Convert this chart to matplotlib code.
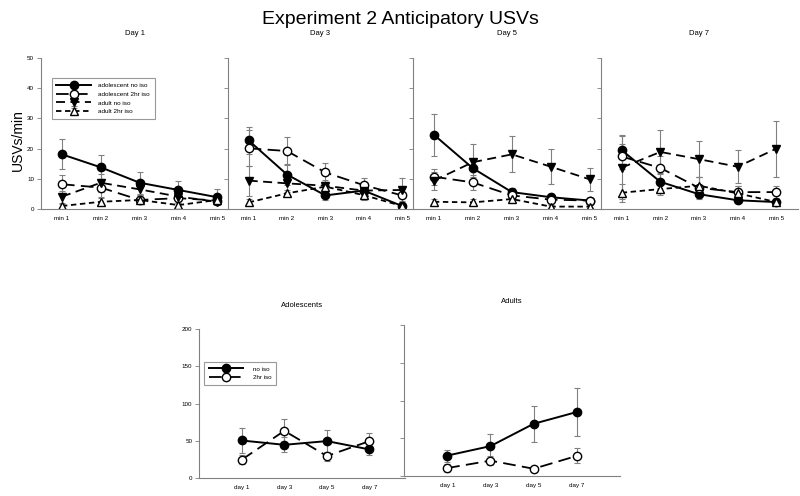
import matplotlib.pyplot as plt

plt.rcParams['font.family'] = ['Liberation Sans', 'DejaVu Sans']

# top row: USVs/min per minute for each test day
minutes = ["min 1", "min 2", "min 3", "min 4", "min 5"]
days = ["Day 1", "Day 3", "Day 5", "Day 7"]

ado_no = [[18.1, 13.8, 8.7, 6.3, 3.9], [22.7, 11.4, 4.5, 6.1, 1.0],
          [24.6, 13.5, 5.6, 3.9, 2.8], [19.5, 9.0, 4.9, 2.9, 2.3]]
ado_no_err = [[5.0, 4.0, 3.7, 2.9, 2.6], [4.4, 3.5, 1.5, 1.5, 0.8],
              [7.0, 3.0, 1.5, 1.0, 0.8], [5.0, 3.0, 1.5, 1.0, 0.8]]
ado_2hr = [[8.2, 7.1, 3.0, 3.6, 2.8], [20.1, 19.2, 12.1, 7.9, 4.5],
           [10.7, 8.8, 4.5, 3.1, 2.8], [17.4, 13.6, 7.0, 5.6, 5.6]]
ado_2hr_err = [[3.2, 3.0, 1.5, 1.5, 1.2], [6.0, 4.5, 3.0, 2.5, 2.0],
               [2.6, 2.5, 1.0, 1.0, 0.8], [4.0, 4.0, 3.5, 2.0, 2.0]]
adult_no = [[4.1, 8.7, 6.5, 4.1, 2.4], [9.4, 8.5, 7.7, 6.1, 6.3],
            [9.4, 15.5, 18.1, 14.0, 9.8], [13.7, 18.9, 16.5, 14.0, 20.0]]
adult_no_err = [[2.0, 3.0, 2.0, 1.5, 1.0], [5.0, 3.0, 2.0, 2.0, 4.0],
                [3.0, 6.0, 6.0, 5.8, 3.8], [10.5, 7.2, 6.0, 5.5, 9.3]]
adult_2hr = [[1.0, 2.4, 3.0, 1.3, 3.0], [2.2, 5.2, 7.4, 4.6, 1.0],
             [2.4, 2.2, 3.3, 0.8, 0.8], [5.4, 6.6, 7.7, 5.2, 2.3]]
adult_2hr_err = [[0.8, 1.2, 1.2, 0.8, 1.0], [1.0, 1.0, 1.5, 1.5, 0.8],
                 [1.0, 1.0, 0.8, 0.5, 0.5], [3.0, 2.0, 3.0, 2.5, 1.0]]

# bottom row: totals per day
test_days = ["day 1", "day 3", "day 5", "day 7"]
ado_tot_no = [50.4, 44.6, 49.6, 38.4]
ado_tot_no_err = [16.5, 10.0, 15.0, 8.0]
ado_tot_2hr = [24.6, 63.4, 29.5, 49.6]
ado_tot_2hr_err = [6.0, 15.6, 6.0, 10.7]
adult_tot_no = [27.2, 39.7, 69.2, 84.8]
adult_tot_no_err = [8.0, 16.0, 24.0, 31.7]
adult_tot_2hr = [10.7, 20.5, 9.8, 26.8]
adult_tot_2hr_err = [5.0, 6.0, 1.0, 10.0]

GREY = "#808080"
styles = {
    "solid": dict(marker="o", mfc="black", ls="-", lw=1.4),
    "open": dict(marker="o", mfc="white", ls=(0, (7, 3.5)), lw=1.3),
    "tri": dict(marker="v", mfc="black", ls=(0, (5, 3)), lw=1.3),
    "otri": dict(marker="^", mfc="white", ls=(0, (3, 2)), lw=1.3),
}


def series(ax, x, y, err, style, label):
    ax.errorbar(x, y, yerr=err, color="black", mec="black", ms=6,
                ecolor=GREY, elinewidth=0.8, capsize=2, capthick=0.8,
                label=label, **styles[style])


def style_axes(ax):
    for s in ["top", "right"]:
        ax.spines[s].set_visible(False)
    for s in ["left", "bottom"]:
        ax.spines[s].set_color(GREY)
        ax.spines[s].set_linewidth(0.8)
    ax.tick_params(axis="y", length=3, width=0.6, color=GREY, labelsize=4.5, pad=2)
    ax.tick_params(axis="x", length=0, labelsize=4.5, pad=5)


def box_legend(ax, anchor, fontsize, textpad):
    leg = ax.legend(loc="upper left", bbox_to_anchor=anchor, fontsize=fontsize,
                    handlelength=5.5, frameon=True, fancybox=False,
                    borderpad=0.7, borderaxespad=0, labelspacing=0.5,
                    handletextpad=textpad)
    leg.get_frame().set_edgecolor(GREY)
    leg.get_frame().set_linewidth(0.8)


fig = plt.figure(figsize=(8, 4.96), dpi=100)

lefts = [0.05125, 0.285, 0.516, 0.751]
widths = [0.234, 0.231, 0.235, 0.246]
x = [1, 2, 3, 4, 5]
for i in range(4):
    ax = fig.add_axes([lefts[i], 0.5786, widths[i], 0.3044])
    series(ax, x, ado_no[i], ado_no_err[i], "solid", "adolescent no iso")
    series(ax, x, ado_2hr[i], ado_2hr_err[i], "open", "adolescent 2hr iso")
    series(ax, x, adult_no[i], adult_no_err[i], "tri", "adult no iso")
    series(ax, x, adult_2hr[i], adult_2hr_err[i], "otri", "adult 2hr iso")
    ax.set_ylim(0, 50)
    ax.set_yticks([0, 10, 20, 30, 40, 50])
    ax.set_xlim(0.46, 5.28 if i < 3 else 5.55)
    ax.set_xticks(x)
    ax.set_xticklabels(minutes)
    style_axes(ax)
    if i > 0:
        ax.set_yticklabels([])
    ax.text(0.5, 1.165, days[i], transform=ax.transAxes, ha="center",
            va="center", fontsize=5.5)
    if i == 0:
        box_legend(ax, (0.058, 0.865), 4.6, 1.1)

xd = [1, 2, 3, 4]
ax = fig.add_axes([0.249, 0.0363, 0.2575, 0.300])
series(ax, xd, ado_tot_no, ado_tot_no_err, "solid", "no iso")
series(ax, xd, ado_tot_2hr, ado_tot_2hr_err, "open", "2hr iso")
ax.set_ylim(0, 200)
ax.set_yticks([0, 50, 100, 150, 200])
ax.set_xlim(0, 4.84)
ax.set_xticks(xd)
ax.set_xticklabels(test_days)
style_axes(ax)
ax.set_title("Adolescents", fontsize=5.5, pad=16)
box_legend(ax, (0.024, 0.78), 4.5, 1.6)

ax = fig.add_axes([0.505, 0.040, 0.27, 0.305])
series(ax, xd, adult_tot_no, adult_tot_no_err, "solid", "no iso")
series(ax, xd, adult_tot_2hr, adult_tot_2hr_err, "open", "2hr iso")
ax.set_ylim(0, 200)
ax.set_yticks([0, 50, 100, 150, 200])
ax.set_yticklabels([])
ax.set_xlim(0, 5.0)
ax.set_xticks(xd)
ax.set_xticklabels(test_days)
style_axes(ax)
ax.set_title("Adults", fontsize=5.5, pad=16)

fig.text(0.5, 0.96, "Experiment 2 Anticipatory USVs", ha="center",
         va="center", fontsize=14)
fig.text(0.022, 0.718, "USVs/min", rotation=90, ha="center", va="center",
         fontsize=10)

fig.savefig("out.png", dpi=100)
